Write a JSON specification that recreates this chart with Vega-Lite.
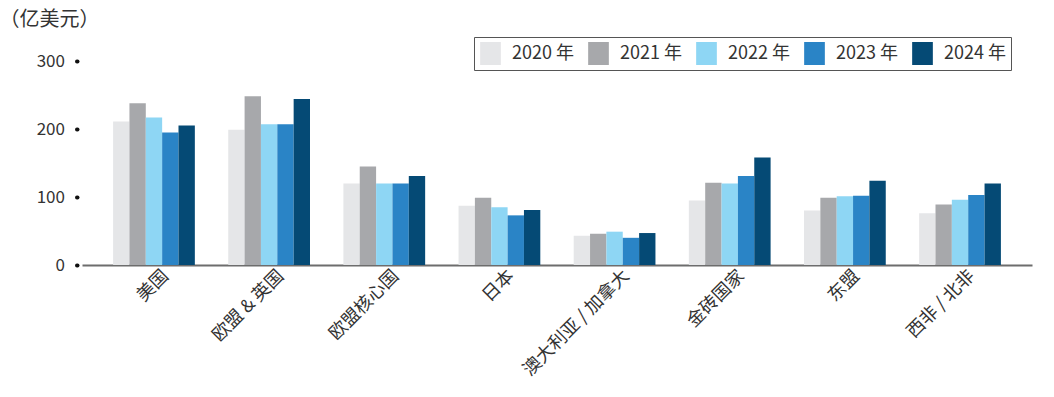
{
  "$schema": "https://vega.github.io/schema/vega-lite/v6.json",
  "autosize": "none",
  "width": 950,
  "height": 204,
  "padding": {"left": 82, "top": 61, "right": 22, "bottom": 132},
  "background": "white",
  "config": {
    "font": "Noto Sans CJK SC",
    "view": {"stroke": null},
    "axis": {"labelFont": "Noto Sans CJK SC", "titleFont": "Noto Sans CJK SC"}
  },
  "data": {
    "values": [
      {"region": "美国", "year": "2020 年", "value": 211},
      {"region": "美国", "year": "2021 年", "value": 238},
      {"region": "美国", "year": "2022 年", "value": 217},
      {"region": "美国", "year": "2023 年", "value": 195},
      {"region": "美国", "year": "2024 年", "value": 205},
      {"region": "欧盟 & 英国", "year": "2020 年", "value": 199},
      {"region": "欧盟 & 英国", "year": "2021 年", "value": 248},
      {"region": "欧盟 & 英国", "year": "2022 年", "value": 207},
      {"region": "欧盟 & 英国", "year": "2023 年", "value": 207},
      {"region": "欧盟 & 英国", "year": "2024 年", "value": 244},
      {"region": "欧盟核心国", "year": "2020 年", "value": 120},
      {"region": "欧盟核心国", "year": "2021 年", "value": 145},
      {"region": "欧盟核心国", "year": "2022 年", "value": 120},
      {"region": "欧盟核心国", "year": "2023 年", "value": 120},
      {"region": "欧盟核心国", "year": "2024 年", "value": 131},
      {"region": "日本", "year": "2020 年", "value": 87},
      {"region": "日本", "year": "2021 年", "value": 99},
      {"region": "日本", "year": "2022 年", "value": 85},
      {"region": "日本", "year": "2023 年", "value": 73},
      {"region": "日本", "year": "2024 年", "value": 81},
      {"region": "澳大利亚 / 加拿大", "year": "2020 年", "value": 43},
      {"region": "澳大利亚 / 加拿大", "year": "2021 年", "value": 46},
      {"region": "澳大利亚 / 加拿大", "year": "2022 年", "value": 49},
      {"region": "澳大利亚 / 加拿大", "year": "2023 年", "value": 40},
      {"region": "澳大利亚 / 加拿大", "year": "2024 年", "value": 47},
      {"region": "金砖国家", "year": "2020 年", "value": 95},
      {"region": "金砖国家", "year": "2021 年", "value": 121},
      {"region": "金砖国家", "year": "2022 年", "value": 120},
      {"region": "金砖国家", "year": "2023 年", "value": 131},
      {"region": "金砖国家", "year": "2024 年", "value": 158},
      {"region": "东盟", "year": "2020 年", "value": 80},
      {"region": "东盟", "year": "2021 年", "value": 99},
      {"region": "东盟", "year": "2022 年", "value": 101},
      {"region": "东盟", "year": "2023 年", "value": 102},
      {"region": "东盟", "year": "2024 年", "value": 124},
      {"region": "西非 / 北非", "year": "2020 年", "value": 76},
      {"region": "西非 / 北非", "year": "2021 年", "value": 89},
      {"region": "西非 / 北非", "year": "2022 年", "value": 96},
      {"region": "西非 / 北非", "year": "2023 年", "value": 103},
      {"region": "西非 / 北非", "year": "2024 年", "value": 120}
    ]
  },
  "mark": {"type": "bar"},
  "encoding": {
    "x": {
      "field": "region",
      "type": "nominal",
      "sort": null,
      "scale": {"paddingInner": 0.29, "paddingOuter": 0.27},
      "axis": {
        "title": null,
        "labelAngle": -45,
        "labelAlign": "right",
        "labelBaseline": "middle",
        "labelFontSize": 18,
        "labelColor": "#333333",
        "labelPadding": 8,
        "labelOffset": 12,
        "ticks": false,
        "domainColor": "#6d6d6d",
        "domainWidth": 2
      }
    },
    "xOffset": {
      "field": "year",
      "type": "nominal",
      "scale": {"paddingInner": 0, "paddingOuter": 0}
    },
    "y": {
      "field": "value",
      "type": "quantitative",
      "scale": {"domain": [0, 300]},
      "axis": {
        "title": "（亿美元）",
        "titleAngle": 0,
        "titleAlign": "left",
        "titleBaseline": "middle",
        "titleX": -78,
        "titleY": -42,
        "titleFontSize": 20,
        "titleFontWeight": "normal",
        "titleColor": "#333333",
        "values": [0, 100, 200, 300],
        "grid": false,
        "domain": false,
        "offset": 5,
        "tickSize": 0.5,
        "tickWidth": 4,
        "tickCap": "round",
        "tickColor": "#111111",
        "labelPadding": 12,
        "labelFontSize": 17,
        "labelColor": "#333333"
      }
    },
    "color": {
      "field": "year",
      "type": "nominal",
      "scale": {
        "domain": ["2020 年", "2021 年", "2022 年", "2023 年", "2024 年"],
        "range": ["#e5e6e8", "#a7a8ab", "#8ed6f4", "#2a84c6", "#054a75"]
      },
      "legend": {
        "title": null,
        "orient": "none",
        "legendX": 392,
        "legendY": -24,
        "direction": "horizontal",
        "columns": 5,
        "strokeColor": "#555555",
        "padding": 5,
        "symbolType": "M-0.9,-1H0.9V1H-0.9Z",
        "symbolSize": 529,
        "symbolStrokeWidth": 0,
        "symbolOpacity": 1,
        "labelFontSize": 18,
        "labelColor": "#333333",
        "labelOffset": 10,
        "columnPadding": 13,
        "labelLimit": 200
      }
    }
  }
}
